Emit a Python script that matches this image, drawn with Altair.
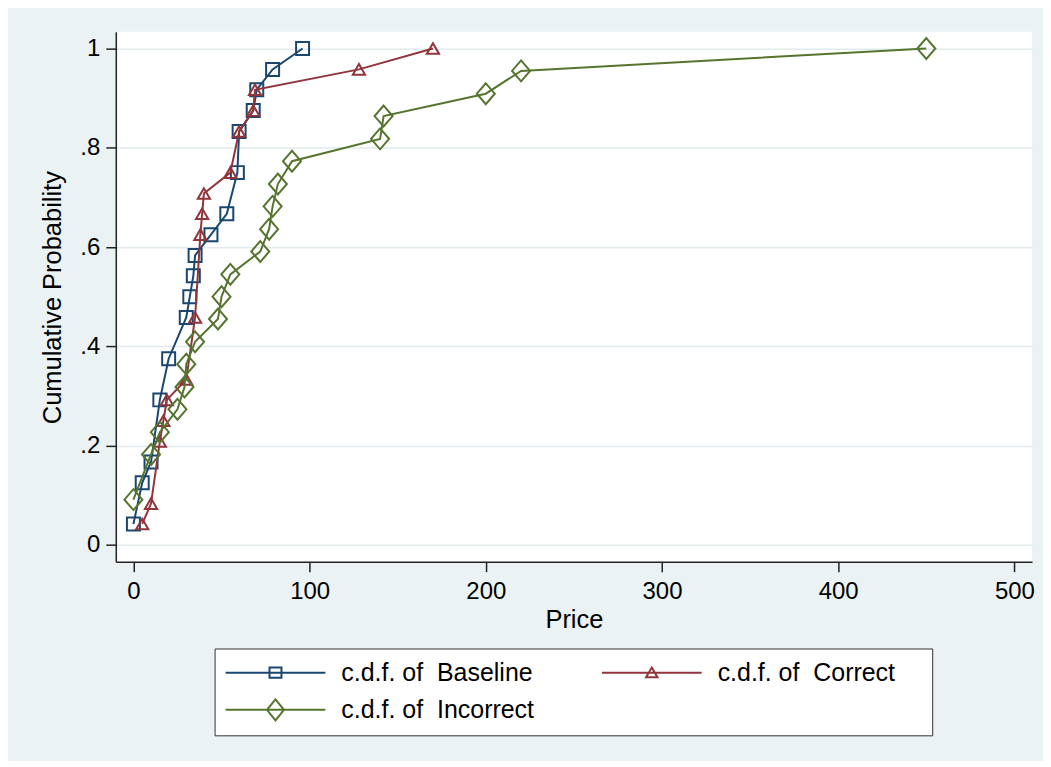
import altair as alt
import pandas as pd

# ---- data ----
series_names = ["Baseline", "Correct", "Incorrect"]
legend_labels = ["c.d.f. of\u00a0 Baseline", "c.d.f. of\u00a0 Correct", "c.d.f. of\u00a0 Incorrect"]
series_colors = ["#1a476f", "#90353b", "#55752f"]

baseline_price = [0, 5, 10, 15, 20, 30, 32, 34, 35, 44, 53, 59, 60, 68, 70, 79, 96]
baseline_cdf = [0.042, 0.125, 0.167, 0.292, 0.375, 0.458, 0.5, 0.542, 0.583, 0.625,
                0.667, 0.75, 0.833, 0.875, 0.917, 0.958, 1.0]

correct_price = [5, 10, 15, 17, 19, 30, 35, 38, 39, 40, 55, 60, 68, 69, 128, 170]
correct_cdf = [0.042, 0.083, 0.208, 0.25, 0.292, 0.333, 0.458, 0.625, 0.667, 0.708,
               0.75, 0.833, 0.875, 0.917, 0.958, 1.0]

incorrect_price = [0, 10, 15, 25, 29, 30, 35, 48, 50, 55, 72, 77, 79, 82, 90, 140, 142, 200, 220, 450]
incorrect_cdf = [0.091, 0.182, 0.227, 0.273, 0.318, 0.364, 0.409, 0.455, 0.5, 0.545,
                 0.591, 0.636, 0.682, 0.727, 0.773, 0.818, 0.864, 0.909, 0.955, 1.0]

x_ticks = [0, 100, 200, 300, 400, 500]
y_ticks = [0, 0.2, 0.4, 0.6, 0.8, 1.0]

# ---- build long table ----
rows = []
for name, label, xs, ys in [
    ("Baseline", legend_labels[0], baseline_price, baseline_cdf),
    ("Correct", legend_labels[1], correct_price, correct_cdf),
    ("Incorrect", legend_labels[2], incorrect_price, incorrect_cdf),
]:
    for xv, yv in zip(xs, ys):
        rows.append({"series": name, "label": label, "price": xv, "cdf": yv})
df = pd.DataFrame(rows)

FONT = "Liberation Sans"

X = alt.X(
    "price:Q",
    scale=alt.Scale(domain=[-10, 510], nice=False, zero=False),
    axis=alt.Axis(
        values=x_ticks, title="Price", grid=False,
        labelFontSize=24, labelPadding=8, labelFont=FONT, labelColor="black",
        titleFontSize=25.5, titleFont=FONT, titleFontWeight="normal", titleColor="black",
        titleY=66, titleBaseline="alphabetic",
        tickSize=10, tickColor="#222", tickWidth=1.5,
        domainColor="#222", domainWidth=1.5,
    ),
)
Y = alt.Y(
    "cdf:Q",
    scale=alt.Scale(domain=[-0.034, 1.034], nice=False, zero=False),
    axis=alt.Axis(
        values=y_ticks, title="Cumulative Probability",
        labelExpr="datum.value == 0 ? '0' : datum.value == 1 ? '1' : replace(format(datum.value, '.1f'), '0.', '.')",
        grid=True, gridColor="#E1EBEE", gridWidth=1.5,
        labelFontSize=24, labelPadding=6, labelFont=FONT, labelColor="black",
        titleFontSize=25.5, titleFont=FONT, titleFontWeight="normal", titleColor="black",
        titleAngle=270, titleX=-55, titleY=266, titleAlign="center", titleBaseline="alphabetic",
        tickSize=10, tickColor="#222", tickWidth=1.5,
        domainColor="#222", domainWidth=1.5,
    ),
)

base = alt.Chart(df)

marker_shapes = {
    "Baseline": ("square", 169),
    "Correct": ("triangle-up", 150),
    "Incorrect": ("M0,-1.1L0.95,0L0,1.1L-0.95,0Z", 361),
}

layers = []
for name, color in zip(series_names, series_colors):
    sub = base.transform_filter(alt.datum.series == name)
    layers.append(sub.mark_line(color=color, strokeWidth=2).encode(x=X, y=Y))
    shp, sz = marker_shapes[name]
    layers.append(
        sub.mark_point(color=color, shape=shp, size=sz, strokeWidth=2, filled=False, opacity=1)
        .encode(x=X, y=Y)
    )

# legend symbols: line with the marker in the middle (unit box scaled by sqrt(size)/2 = 6px);
# the trailing move-to only widens each legend entry to the reference's column width
legend_paths = [
    "M-8.33,0L8.33,0M-1,-0.85L1,-0.85L1,0.85L-1,0.85ZM44.3,0",
    "M-8.33,0L8.33,0M0,-0.85L0.95,0.75L-0.95,0.75ZM44.3,0",
    "M-8.33,0L8.33,0M0,-1.75L1.42,0L0,1.75L-1.42,0ZM44.3,0",
]

leg = alt.Legend(
    title=None, orient="none", legendX=99, legendY=618, direction="horizontal",
    columns=2, gridAlign="all", columnPadding=53, rowPadding=9,
    symbolSize=144, symbolStrokeWidth=2, symbolOffset=37.5, labelOffset=53.5,
    labelFont=FONT, labelFontSize=25, labelColor="black", labelLimit=500,
    padding=11, strokeColor="#333333", fillColor="white", cornerRadius=0,
)

legend_layer = base.transform_filter("false").mark_point(
    filled=False, opacity=1, size=144, strokeWidth=2
).encode(
    x=X, y=Y,
    color=alt.Color("label:N", scale=alt.Scale(domain=legend_labels, range=series_colors), legend=leg),
    shape=alt.Shape("label:N", scale=alt.Scale(domain=legend_labels, range=legend_paths), legend=leg),
)
layers.append(legend_layer)

chart = (
    alt.layer(*layers)
    .properties(
        width=918, height=531,
        padding={"left": 108, "top": 23, "right": 11, "bottom": 199},
        autosize=alt.AutoSizeParams(type="none"),
        background="#EAF2F3",
    )
    .configure_view(fill="white", strokeWidth=0)
)

chart.save("out.html", embed_options={"renderer": "svg", "actions": False})
